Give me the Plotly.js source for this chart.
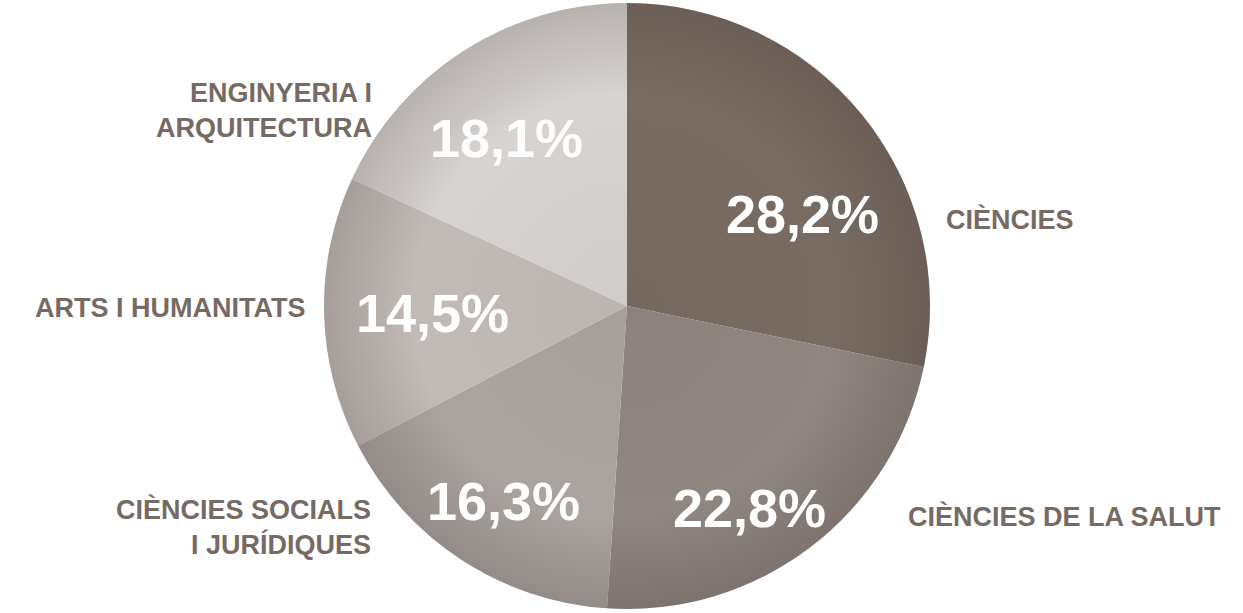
<!DOCTYPE html>
<html>
<head>
<meta charset="utf-8">
<script src="https://cdn.plot.ly/plotly-3.0.1.min.js"></script>
<style>html,body{margin:0;padding:0;background:#fff;}#chart{width:1243px;height:613px;}</style>
</head>
<body>
<div id="chart"></div>
<script>
const categories = ["CIÈNCIES", "CIÈNCIES DE LA SALUT", "CIÈNCIES SOCIALS I JURÍDIQUES", "ARTS I HUMANITATS", "ENGINYERIA I ARQUITECTURA"];
const labelTexts = ["CIÈNCIES", "CIÈNCIES DE LA SALUT", "CIÈNCIES SOCIALS<br>I JURÍDIQUES", "ARTS I HUMANITATS", "ENGINYERIA I<br>ARQUITECTURA"];
const values = [28.2, 22.8, 16.3, 14.5, 18.1];
const colors = ["#786b62", "#8f8681", "#aaa3a0", "#c1bab7", "#d7d3d1"];

const W = 1243, H = 613;
// category label placement (pixels): [x, y, anchor]
const labelPos = [
  [944, 219, "left"],
  [906, 516, "left"],
  [373, 527, "right"],
  [307, 308, "right"],
  [374, 110, "right"]
];
// percentage label centres (pixels)
const pctPos = [
  [802, 214],
  [749, 508],
  [503, 501],
  [432, 313],
  [506, 138]
];

const font = "Liberation Sans, Arial, Helvetica, sans-serif";
const cx = 627, cy = 306, r = 303;

const trace = {
  type: "pie",
  labels: categories,
  values: values,
  sort: false,
  direction: "clockwise",
  rotation: 0,
  marker: {colors: colors, line: {width: 0}},
  textinfo: "none",
  hoverinfo: "label+percent",
  showlegend: false,
  domain: {x: [(cx - r) / W, (cx + r) / W], y: [(H - cy - r) / H, (H - cy + r) / H]}
};

const fmt = v => v.toFixed(1).replace(".", ",") + "%";

const annotations = labelTexts.map((t, i) => ({
  text: t,
  xref: "paper", yref: "paper",
  x: labelPos[i][0] / W,
  y: 1 - labelPos[i][1] / H,
  xanchor: labelPos[i][2],
  yanchor: "middle",
  align: labelPos[i][2],
  showarrow: false,
  font: {family: font, size: 27, color: "#766a63", weight: "bold"}
})).concat(values.map((v, i) => ({
  text: fmt(v),
  xref: "paper", yref: "paper",
  x: pctPos[i][0] / W,
  y: 1 - pctPos[i][1] / H,
  xanchor: "center",
  yanchor: "middle",
  showarrow: false,
  font: {family: font, size: 54, color: "#ffffff", weight: "bold"}
})));

const svg = "<svg xmlns='http://www.w3.org/2000/svg' width='606' height='606' viewBox='0 0 606 606'>" +
  "<defs><radialGradient id='g' cx='50%' cy='50%' r='50%'>" +
  "<stop offset='0' stop-color='#3a2c26' stop-opacity='0.04'/>" +
  "<stop offset='0.7' stop-color='#3a2c26' stop-opacity='0'/>" +
  "<stop offset='1' stop-color='#3a2c26' stop-opacity='0.2'/>" +
  "</radialGradient></defs><circle cx='303' cy='303' r='303' fill='url(#g)'/></svg>";

const layout = {
  width: W, height: H,
  margin: {l: 0, r: 0, t: 0, b: 0},
  paper_bgcolor: "#ffffff",
  separators: ",.",
  showlegend: false,
  annotations: annotations,
  images: [{
    source: "data:image/svg+xml;charset=utf-8," + encodeURIComponent(svg),
    xref: "paper", yref: "paper",
    x: (cx - r) / W, y: 1 - (cy - r) / H,
    sizex: 2 * r / W, sizey: 2 * r / H,
    sizing: "stretch",
    xanchor: "left", yanchor: "top",
    layer: "above"
  }]
};

Plotly.newPlot("chart", [trace], layout, {displayModeBar: false, staticPlot: true});
</script>
</body>
</html>
